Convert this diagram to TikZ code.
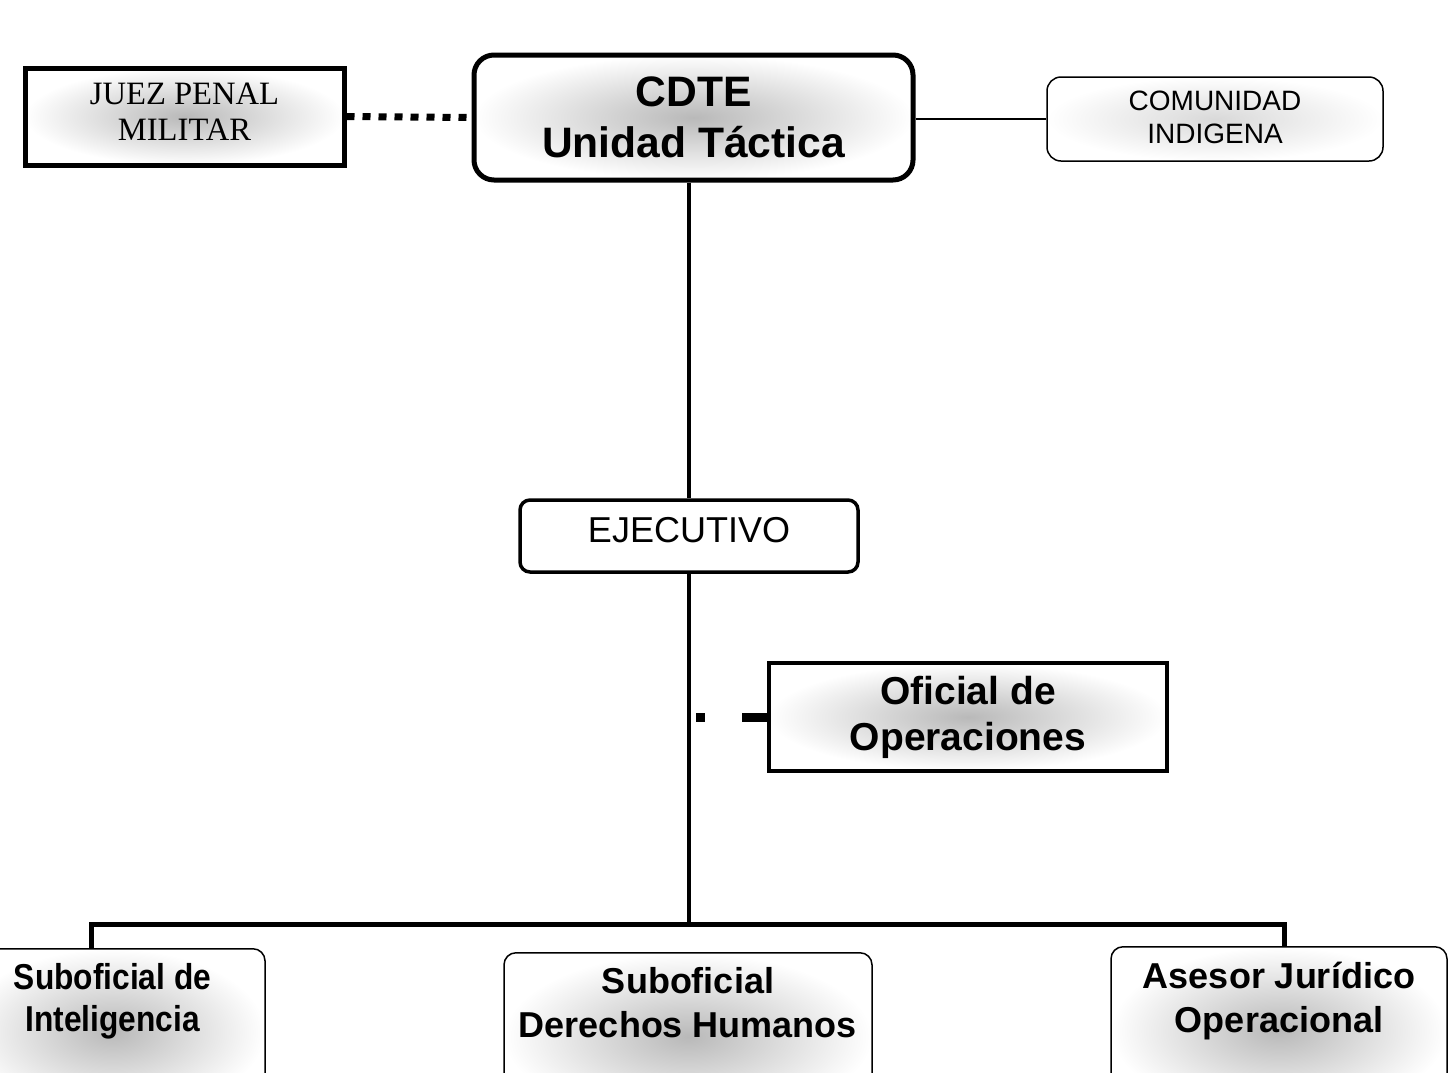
\documentclass[tikz,border=0pt]{standalone}
\usepackage{fontspec}
\setmainfont{Liberation Sans}
\newfontfamily\romanfont{Liberation Serif}
\newfontfamily\narrowfont{Liberation Sans}[FakeStretch=0.88]
\usepackage{tikz}
\tikzset{
	treenode/.style = {shape=rectangle, draw, align=center, inner sep=5pt, fill=white},
	glow/.style     = {shading=radial, inner color=gray!#1, outer color=white},
	root/.style     = {treenode, glow=55, rounded corners=10pt, line width=2.5pt,
		minimum width=219.5pt, minimum height=62.5pt,
		font=\bfseries\fontsize{21.3}{25.5}\selectfont},
	juez/.style     = {treenode, glow=55, line width=2.5pt, text depth=5pt,
		minimum width=159.5pt, minimum height=48.5pt,
		font=\romanfont\fontsize{16.3}{18}\selectfont},
	env/.style      = {treenode, glow=30, rounded corners=7pt, line width=0.75pt,
		text depth=2pt, minimum width=168pt, minimum height=42pt,
		font=\fontsize{14}{16.5}\selectfont},
	ejec/.style     = {treenode, rounded corners=5pt, line width=1.75pt, text depth=6pt,
		minimum width=169pt, minimum height=36pt,
		font=\fontsize{18}{21}\selectfont},
	staff/.style    = {treenode, glow=55, line width=2pt,
		minimum width=199pt, minimum height=54pt,
		font=\bfseries\fontsize{19.5}{23}\selectfont},
	base/.style     = {treenode, glow=55, anchor=north, rounded corners=6pt, line width=0.75pt,
		inner ysep=7.5pt, text depth=34pt, font=\bfseries\fontsize{18}{22}\selectfont},
	puntos/.style   = {line width=3.5pt, dash pattern=on 4pt off 4pt},
	guion/.style    = {line width=4.5pt, dash pattern=on 0pt off 3.5pt on 4.5pt off 18.5pt on 20pt},
	tronco/.style   = {line width=2pt},
	barra/.style    = {line width=2.5pt}
}
\begin{document}
\begin{tikzpicture}
	[
	x = 0.5pt,
	y = -0.5pt
	]
	\useasboundingbox (0,0) rectangle (1455,1072);
	\clip (0,0) rectangle (1455,1072);
	\node [root]  (cdte)    at (693.5,117.5) {CDTE\\Unidad Táctica};
	\node [juez]  (juez)    at (184.5,116.5) {JUEZ PENAL\\MILITAR};
	\node [env]   (comu)    at (1215,119)    {COMUNIDAD\\INDIGENA};
	\node [ejec]  (ejec)    at (689,536)     {EJECUTIVO};
	\node [staff] (oficial) at (968,717)     {Oficial de\\Operaciones};
	\node [base, minimum width=152.5pt, font=\narrowfont\bfseries\fontsize{18}{21}\selectfont]
		(sinte) at (112.5,948) {Suboficial de\\Inteligencia};
	\node [base, minimum width=184pt] (sddhh) at (688,952) {Suboficial\\Derechos Humanos};
	\node [base, minimum width=168pt] (asesor) at (1279,946) {Asesor Jurídico\\Operacional};
	\coordinate (rama) at (689,924);
	\draw [puntos] (juez.east) -- (cdte.west);
	\draw [line width=0.75pt] (cdte.east |- comu.west) -- (comu.west);
	\draw [tronco] (ejec.north |- cdte.south) -- (ejec.north);
	\draw [tronco] (ejec.south) -- (rama);
	\draw [guion] (ejec.south |- oficial.west) -- (oficial.west);
	\draw [barra] (rama) -| ([xshift=-10.75pt]sinte.north);
	\draw [barra] (rama) -| ([xshift=2.5pt]asesor.north);
\end{tikzpicture}
\end{document}
